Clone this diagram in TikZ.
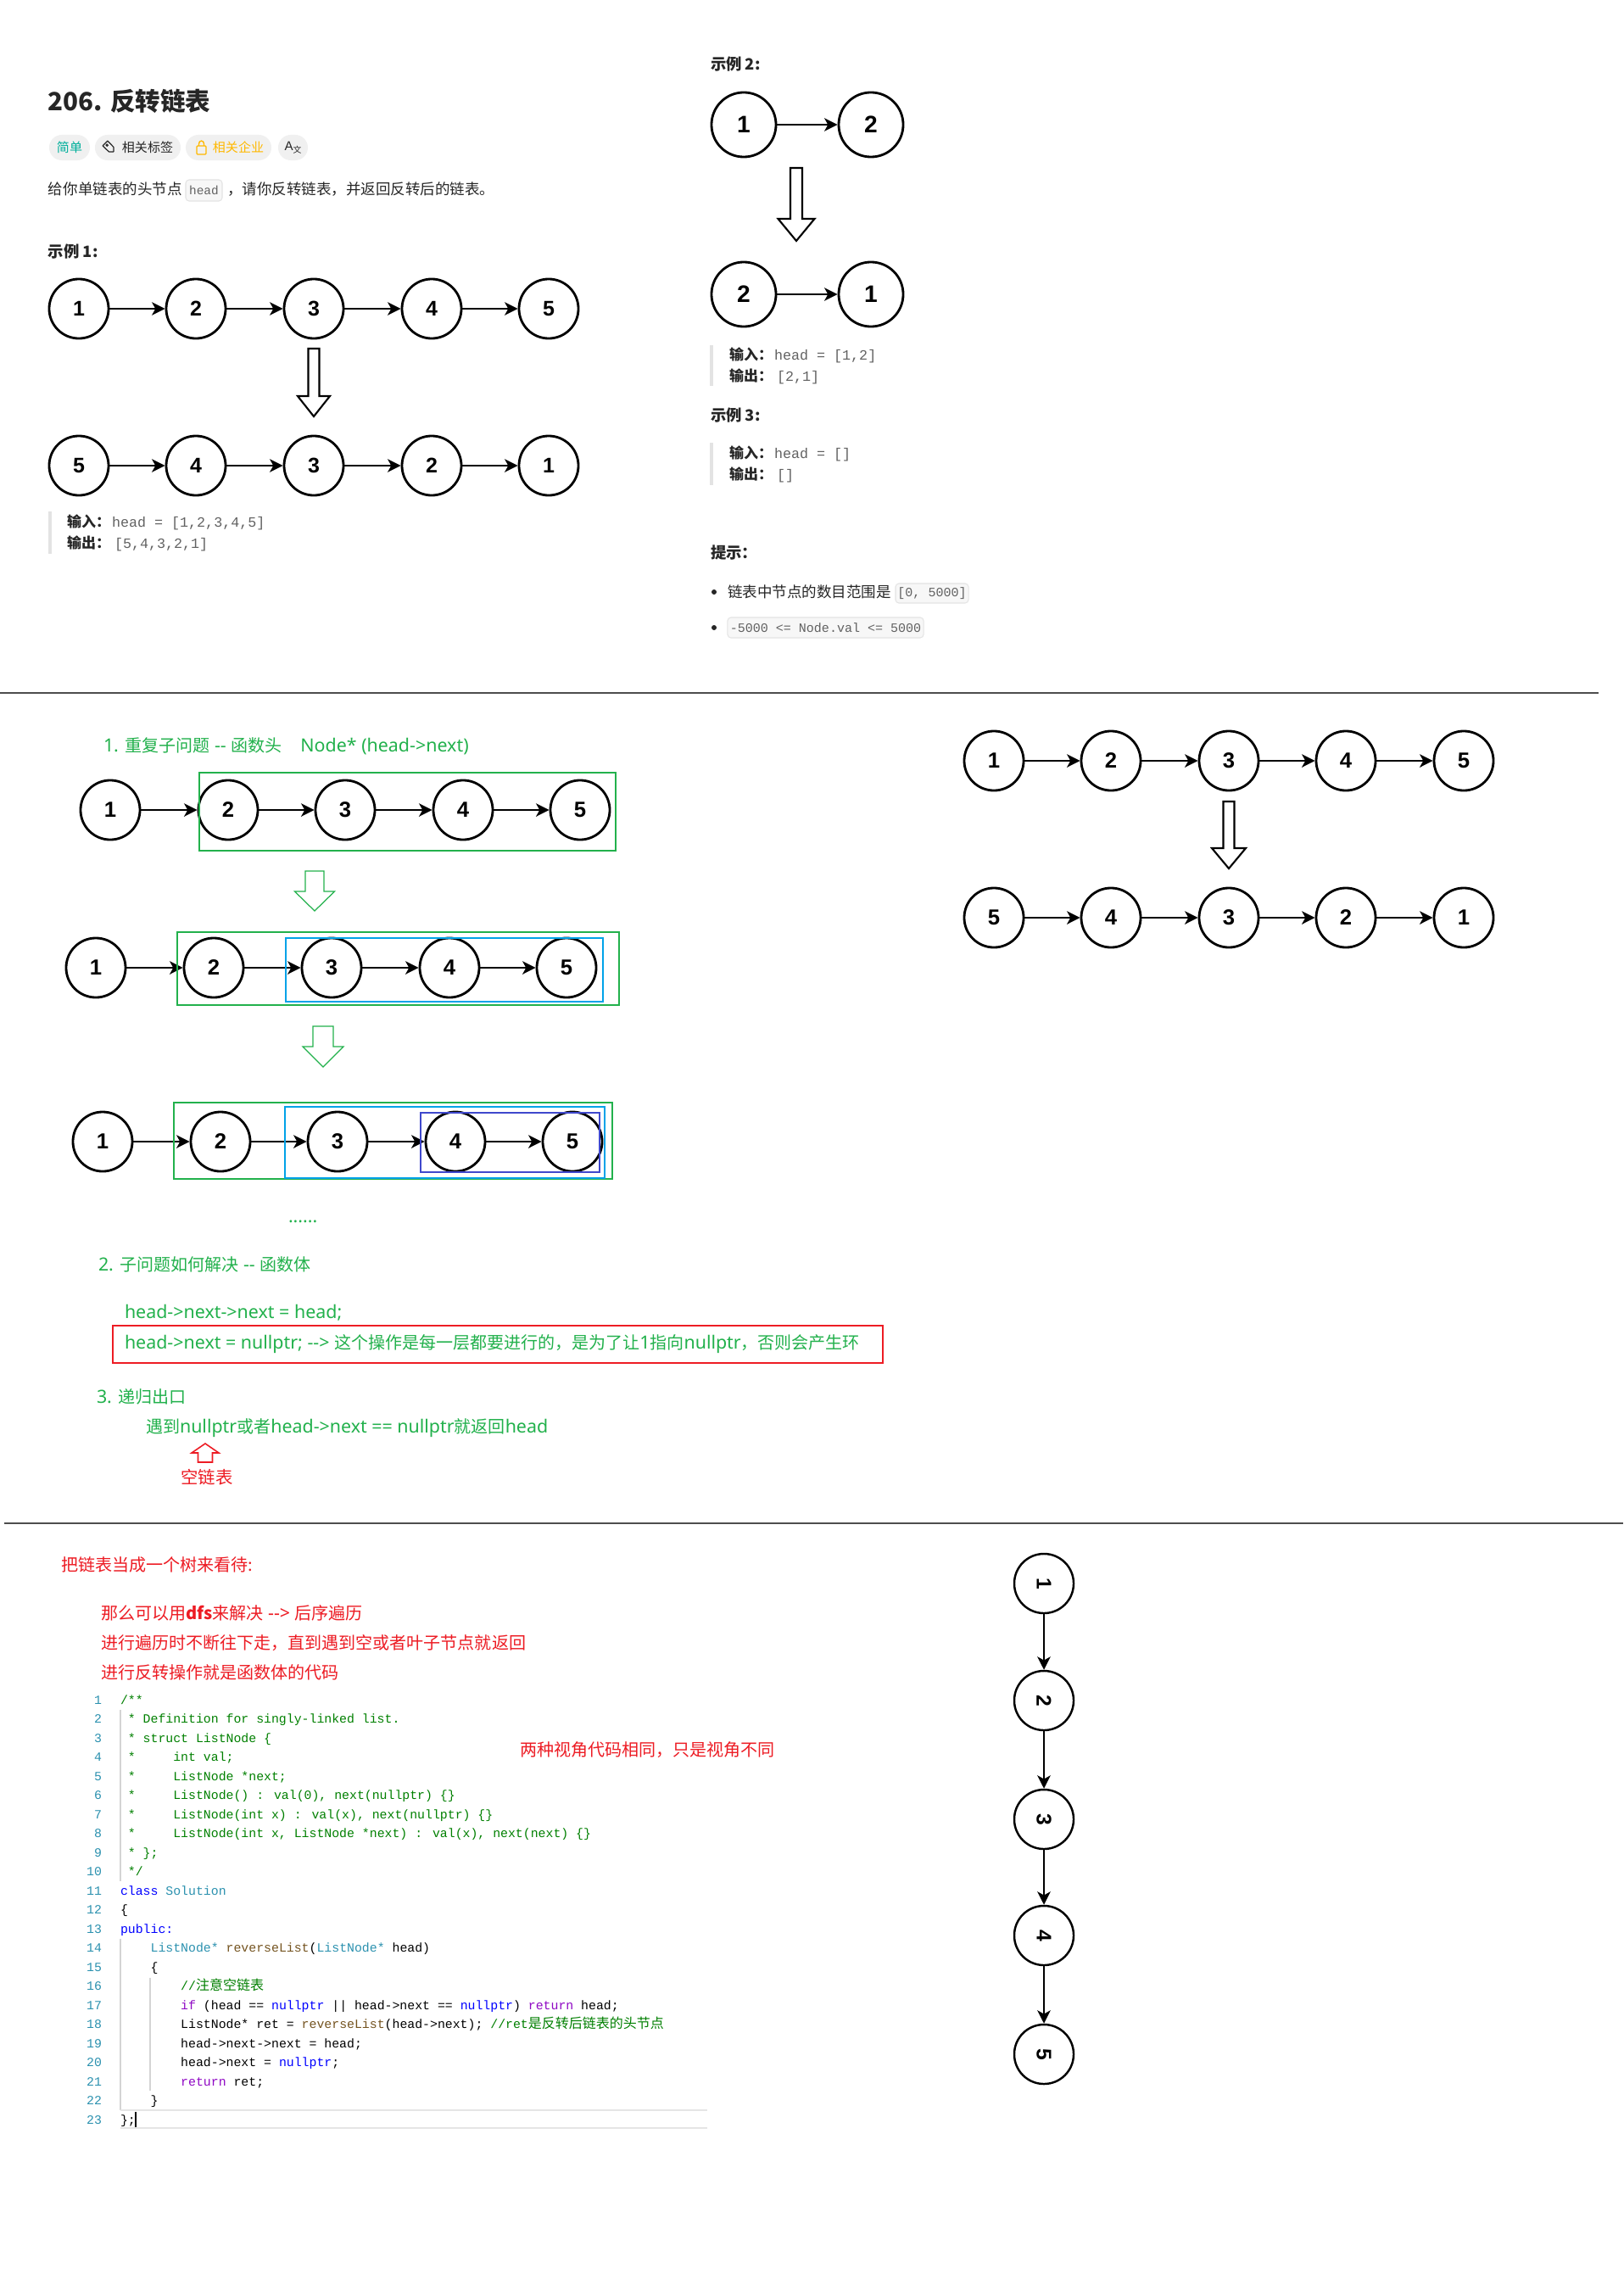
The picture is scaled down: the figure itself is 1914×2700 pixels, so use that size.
\documentclass[tikz,border=0pt]{standalone}
\usepackage{fontspec}
\usetikzlibrary{arrows.meta}
\newfontfamily\cjk{Noto Sans CJK SC}
\newfontfamily\latin[Scale=1.07]{Noto Sans}
\newfontfamily\codefont{Liberation Mono}
\newfontfamily\digitfont{Liberation Sans}
\newcommand\setfs[1]{\fontsize{#1}{#1}\selectfont}
\newcommand\codecjk{\cjk\setfs{4.55pt}}
\newcommand\lat[1]{{\latin #1}}
\definecolor{lcteal}{HTML}{00AF9B}
\definecolor{lcorange}{HTML}{FFB800}
\definecolor{pillgray}{HTML}{F0F0F0}
\definecolor{inkgray}{HTML}{262626}
\definecolor{codegray}{HTML}{626262}
\definecolor{boxfill}{HTML}{F7F7F7}
\definecolor{boxline}{HTML}{E4E4E4}
\definecolor{barcolor}{HTML}{E3E3E3}
\definecolor{mkgreen}{HTML}{22B14C}
\definecolor{mkblue}{HTML}{00A2E8}
\definecolor{mkindigo}{HTML}{3F48CC}
\definecolor{mkred}{HTML}{ED1C24}
\definecolor{lnblue}{HTML}{2B91AF}
\definecolor{cgreen}{HTML}{008000}
\definecolor{ckw}{HTML}{0000FF}
\definecolor{cty}{HTML}{2B91AF}
\definecolor{cfn}{HTML}{74531F}
\definecolor{cctl}{HTML}{8F08C4}
\definecolor{guide}{HTML}{D4D4D4}
\definecolor{sepgray}{HTML}{4D4D4D}
\newcommand\kwd[1]{\textcolor{ckw}{#1}}
\newcommand\tyn[1]{\textcolor{cty}{#1}}
\newcommand\fnn[1]{\textcolor{cfn}{#1}}
\newcommand\ctl[1]{\textcolor{cctl}{#1}}
\newcommand\cmt[1]{\textcolor{cgreen}{#1}}
% hollow block arrow: style, centre x, shaft end y, head base y, tip y, half shaft, half head
\newcommand\hollowarrow[7]{\draw[#1] (#2-#6,#3) -- (#2+#6,#3) -- (#2+#6,#4) -- (#2+#7,#4) -- (#2,#5) -- (#2-#7,#4) -- (#2-#6,#4) -- cycle;}
% one line of the listing: number, text
\newcommand\codeline[2]{%
  \node[lnum] (ln#1) at (120,{2009.3+(#1-1)*22.5}) {#1};
  \node[codetxt] (cl#1) at (142,{2009.3+(#1-1)*22.5}) {#2};}
\begin{document}
\begin{tikzpicture}[x=0.01cm,y=-0.01cm,
  txt/.style={anchor=base west,inner sep=0pt,outer sep=0pt},
  ctxt/.style={inner sep=0pt,outer sep=0pt},
  lnode/.style={circle,draw=black,fill=white,line width=0.8pt,minimum size=0.70cm,inner sep=0pt,font=\digitfont\bfseries\setfs{7.1pt}},
  bignode/.style={lnode,minimum size=0.76cm,font=\digitfont\bfseries\setfs{8pt}},
  larrow/.style={line width=0.7pt,-{Stealth[length=4.4pt,width=4.4pt,inset=1.2pt]}},
  pill/.style={rounded corners=0.15cm,fill=pillgray,minimum height=0.30cm,inner sep=0pt,font=\cjk\setfs{4.27pt}},
  lctitle/.style={txt,font=\cjk\bfseries\setfs{8.4pt},text=inkgray},
  lcbody/.style={txt,font=\cjk\setfs{4.98pt},text=inkgray},
  lclabel/.style={txt,font=\cjk\bfseries\setfs{5.23pt},text=inkgray},
  lcio/.style={txt,font=\cjk\bfseries\setfs{4.84pt},text=inkgray},
  lcval/.style={txt,font=\codefont\setfs{4.75pt},text=codegray},
  codebox/.style={draw=boxline,fill=boxfill,rounded corners=0.04cm,inner sep=0pt,font=\codefont\setfs{4.27pt},text=codegray,line width=0.3pt},
  quotebar/.style={draw=barcolor,line width=1pt},
  gnote/.style={txt,font=\cjk\setfs{5.69pt},text=mkgreen},
  rnote/.style={txt,font=\cjk\setfs{5.7pt},text=mkred},
  lnum/.style={anchor=base east,inner sep=0pt,outer sep=0pt,font=\codefont\setfs{4.22pt},text=lnblue},
  codetxt/.style={txt,font=\codefont\setfs{4.22pt},text=black},
  hollow/.style={draw=black,fill=white,line width=0.6pt,line join=miter},
  ghollow/.style={draw=mkgreen,line width=0.35pt},
  rhollow/.style={draw=mkred,line width=0.45pt},
]
\useasboundingbox (0,0) rectangle (1914,2700);
\fill[white] (0,0) rectangle (1914,2700);

%================ problem statement ================
\node[lctitle] (title) at (57,131) {206. 反转链表};

\node[pill,minimum width=0.48cm,text=lcteal] (tagEasy) at (82,174) {简单};
\node[pill,minimum width=1.01cm] (tagTopics) at (162.5,174) {};
\node[ctxt,font=\cjk\setfs{4.27pt},text=inkgray] (tagTopicsTxt) at (174,174) {相关标签};
\draw[inkgray,line width=0.35pt,line join=round] (126.9,166.2) -- (133.9,173.3) -- (133.9,178.9) -- (128.3,178.9) -- (121.2,171.9) -- cycle;
\draw[inkgray,line width=0.3pt] (126.2,171.2) circle (1.2);
\node[pill,minimum width=1.01cm] (tagCompanies) at (269.5,174) {};
\node[ctxt,font=\cjk\setfs{4.27pt},text=lcorange] (tagCompaniesTxt) at (281,174) {相关企业};
\draw[lcorange,line width=0.4pt,rounded corners=0.01cm] (232,172) rectangle (243,182);
\draw[lcorange,line width=0.4pt] (234.5,172) -- (234.5,169.5) .. controls (234.5,165) and (240.5,165) .. (240.5,169.5) -- (240.5,172);
\node[pill,minimum width=0.35cm] (tagLang) at (345.5,174) {};
\node[ctxt,font=\digitfont\setfs{4.3pt},text=inkgray] (tagLangTxt) at (345.5,174) {A\raisebox{-0.3ex}{\cjk\setfs{2.8pt}文}};

\node[lcbody] (desc1) at (57,229.5) {给你单链表的头节点};
\node[codebox,minimum width=0.43cm,minimum height=0.25cm,font=\codefont\setfs{4.1pt}] (descHead) at (240.5,224.5) {head};
\node[lcbody] (desc2) at (268,229.5) {，请你反转链表，并返回反转后的链表。};

% example 1
\node[lclabel] (ex1) at (57,303) {示例 1:};
\foreach \idx/\xx/\lab in {1/93/1,2/231/2,3/370/3,4/509/4,5/647/5}
  \node[lnode] (a\idx) at (\xx,364) {\lab};
\foreach \idx/\xx/\lab in {1/93/5,2/231/4,3/370/3,4/509/2,5/647/1}
  \node[lnode] (b\idx) at (\xx,549) {\lab};
\foreach \i/\j in {1/2,2/3,3/4,4/5} {\draw[larrow] (a\i) -- (a\j); \draw[larrow] (b\i) -- (b\j);}
\hollowarrow{hollow}{370}{411}{467}{491}{6.5}{19}
\draw[quotebar] (59,603) -- (59,653);
\node[lcio] (in1) at (79,621) {输入：};
\node[lcval] (in1v) at (132,621) {head = [1,2,3,4,5]};
\node[lcio] (out1) at (79,646) {输出：};
\node[lcval] (out1v) at (135,646) {[5,4,3,2,1]};

% example 2
\node[lclabel] (ex2) at (838,83) {示例 2:};
\node[bignode] (c1) at (877,147) {1};
\node[bignode] (c2) at (1027,147) {2};
\draw[larrow] (c1) -- (c2);
\hollowarrow{hollow}{939}{198}{258}{284}{7}{21.5}
\node[bignode] (d1) at (877,347) {2};
\node[bignode] (d2) at (1027,347) {1};
\draw[larrow] (d1) -- (d2);
\draw[quotebar] (839,407) -- (839,455);
\node[lcio] (in2) at (860,424) {输入：};
\node[lcval] (in2v) at (913,424) {head = [1,2]};
\node[lcio] (out2) at (860,449) {输出：};
\node[lcval] (out2v) at (916,449) {[2,1]};

% example 3
\node[lclabel] (ex3) at (838,496) {示例 3:};
\draw[quotebar] (839,522) -- (839,572);
\node[lcio] (in3) at (860,540) {输入：};
\node[lcval] (in3v) at (913,540) {head = []};
\node[lcio] (out3) at (860,565) {输出：};
\node[lcval] (out3v) at (916,565) {[]};

% constraints
\node[lclabel] (hint) at (838,658) {提示：};
\fill[inkgray] (842,698) circle (3);
\node[lcbody] (hint1) at (858,704.5) {链表中节点的数目范围是};
\node[codebox,minimum width=0.86cm,minimum height=0.23cm] (hint1v) at (1099,699.5) {[0, 5000]};
\fill[inkgray] (842,740) circle (3);
\node[codebox,minimum width=2.31cm,minimum height=0.24cm] (hint2v) at (973.5,740) {-5000 <= Node.val <= 5000};

\draw[sepgray,line width=0.45pt] (0,817) -- (1885,817);

%================ recursion: sub-problems ================
\foreach \idx/\xx/\lab in {1/1172/1,2/1310/2,3/1449/3,4/1587/4,5/1726/5}
  \node[lnode,font=\digitfont\bfseries\setfs{7.3pt}] (e\idx) at (\xx,897) {\lab};
\foreach \idx/\xx/\lab in {1/1172/5,2/1310/4,3/1449/3,4/1587/2,5/1726/1}
  \node[lnode,font=\digitfont\bfseries\setfs{7.3pt}] (f\idx) at (\xx,1082) {\lab};
\foreach \i/\j in {1/2,2/3,3/4,4/5} {\draw[larrow] (e\i) -- (e\j); \draw[larrow] (f\i) -- (f\j);}
\hollowarrow{hollow}{1449}{945}{1000}{1024}{6.5}{20}

\node[gnote] (step1) at (122,886.5) {\lat{1. }重复子问题\lat{ -{}- }函数头\lat{\hspace{0.22cm}Node* (head->next)}};

\foreach \idx/\xx in {1/130,2/269,3/407,4/546,5/684}
  \node[lnode,font=\digitfont\bfseries\setfs{7.3pt}] (p\idx) at (\xx,955) {\idx};
\foreach \idx/\xx in {1/113,2/252,3/391,4/530,5/668}
  \node[lnode,font=\digitfont\bfseries\setfs{7.3pt}] (q\idx) at (\xx,1141) {\idx};
\foreach \idx/\xx in {1/121,2/260,3/398,4/537,5/675}
  \node[lnode,font=\digitfont\bfseries\setfs{7.3pt}] (w\idx) at (\xx,1346) {\idx};
\foreach \i/\j in {1/2,2/3,3/4,4/5} {\draw[larrow] (p\i) -- (p\j); \draw[larrow] (q\i) -- (q\j); \draw[larrow] (w\i) -- (w\j);}

\draw[mkgreen,line width=0.4pt] (235,911) rectangle (726,1003);
\draw[mkgreen,line width=0.4pt] (209,1099) rectangle (730,1185);
\draw[mkblue,line width=0.4pt] (337,1106) rectangle (711,1181);
\draw[mkgreen,line width=0.4pt] (205,1300) rectangle (722,1390);
\draw[mkblue,line width=0.4pt] (336,1305) rectangle (713,1389);
\draw[mkindigo,line width=0.4pt] (496,1312) rectangle (707,1382);

\hollowarrow{ghollow}{371}{1027}{1051}{1074}{11}{23.5}
\hollowarrow{ghollow}{381}{1210}{1234}{1258}{12}{24}

\node[gnote] (dots) at (340,1441) {\lat{......}};
\node[gnote] (step2) at (116,1498.5) {\lat{2. }子问题如何解决\lat{ -{}- }函数体};
\node[gnote] (body1) at (147,1554.5) {\lat{head->next->next = head;}};
\draw[mkred,line width=0.45pt] (133,1563) rectangle (1041,1607);
\node[gnote] (body2) at (147,1590.5) {\lat{head->next = nullptr; -{}-> }这个操作是每一层都要进行的，是为了让\lat{1}指向\lat{nullptr}，否则会产生环};
\node[gnote] (step3) at (114,1654.5) {\lat{3. }递归出口};
\node[gnote] (exitc) at (172,1689.5) {遇到\lat{nullptr}或者\lat{head->next == nullptr}就返回\lat{head}};
\hollowarrow{rhollow}{242}{1724}{1713}{1702}{8.5}{16}
\node[ctxt,font=\cjk\setfs{5.8pt},text=mkred] (emptyl) at (244,1742) {空链表};

\draw[sepgray,line width=0.45pt] (5,1796) -- (1914,1796);

%================ recursion as a tree walk ================
\node[rnote] (tree0) at (72,1852.7) {把链表当成一个树来看待:};
\node[rnote] (tree1) at (119,1909.7) {那么可以用{\cjk\bfseries dfs}来解决\lat{ -{}-> }后序遍历};
\node[rnote] (tree2) at (119,1944.7) {进行遍历时不断往下走，直到遇到空或者叶子节点就返回};
\node[rnote] (tree3) at (119,1979.7) {进行反转操作就是函数体的代码};
\node[rnote] (same) at (613,2070.7) {两种视角代码相同，只是视角不同};

% listing
\draw[guide,line width=0.3pt] (142,2016) -- (142,2218);
\draw[guide,line width=0.3pt] (142,2286) -- (142,2488);
\draw[guide,line width=0.3pt] (177,2332) -- (177,2465);
\draw[black!10,line width=0.5pt] (142,2488) -- (834,2488);
\draw[black!10,line width=0.5pt] (142,2509) -- (834,2509);
\codeline{1}{\cmt{/**}}
\codeline{2}{\cmt{~* Definition for singly-linked list.}}
\codeline{3}{\cmt{~* struct ListNode \{}}
\codeline{4}{\cmt{~*~~~~~int val;}}
\codeline{5}{\cmt{~*~~~~~ListNode *next;}}
\codeline{6}{\cmt{~*~~~~~ListNode() : val(0), next(nullptr) \{\}}}
\codeline{7}{\cmt{~*~~~~~ListNode(int x) : val(x), next(nullptr) \{\}}}
\codeline{8}{\cmt{~*~~~~~ListNode(int x, ListNode *next) : val(x), next(next) \{\}}}
\codeline{9}{\cmt{~* \};}}
\codeline{10}{\cmt{~*/}}
\codeline{11}{\kwd{class} \tyn{Solution}}
\codeline{12}{\{}
\codeline{13}{\kwd{public:}}
\codeline{14}{~~~~\tyn{ListNode*} \fnn{reverseList}(\tyn{ListNode*} head)}
\codeline{15}{~~~~\{}
\codeline{16}{~~~~~~~~\cmt{//{\codecjk 注意空链表}}}
\codeline{17}{~~~~~~~~\ctl{if} (head == \kwd{nullptr} || head->next == \kwd{nullptr}) \ctl{return} head;}
\codeline{18}{~~~~~~~~ListNode* ret = \fnn{reverseList}(head->next); \cmt{//ret{\codecjk 是反转后链表的头节点}}}
\codeline{19}{~~~~~~~~head->next->next = head;}
\codeline{20}{~~~~~~~~head->next = \kwd{nullptr};}
\codeline{21}{~~~~~~~~\ctl{return} ret;}
\codeline{22}{~~~~\}}
\codeline{23}{\};}
\draw[black,line width=0.4pt] (160,2490) -- (160,2508);

% the list standing upright
\foreach \idx/\yy in {1/1867,2/2005,3/2145,4/2282,5/2422}
  \node[lnode,line width=0.7pt,rotate=-90,font=\digitfont\bfseries\setfs{7pt}] (v\idx) at (1231,\yy) {\idx};
\foreach \i/\j in {1/2,2/3,3/4,4/5} \draw[larrow,line width=0.55pt] (v\i) -- (v\j);
\end{tikzpicture}
\end{document}
